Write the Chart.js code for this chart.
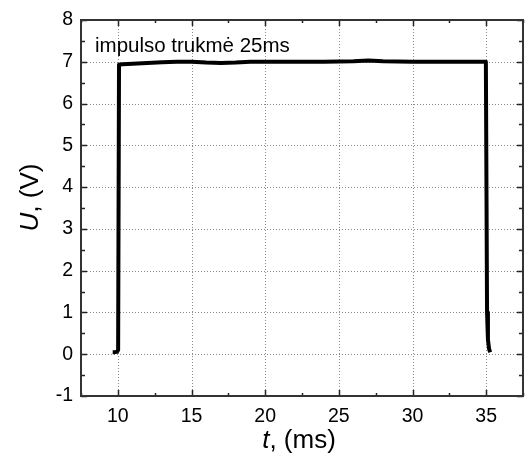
<!DOCTYPE html>
<html>
<head>
<meta charset="utf-8">
<script src="https://cdn.jsdelivr.net/npm/chart.js@4.4.1/dist/chart.umd.min.js"></script>
<style>
	html, body { margin: 0; padding: 0; background: #fff; }
	#wrap { width: 531px; height: 468px; }
</style>
</head>
<body>
<div id="wrap"><canvas id="chart" width="531" height="468"></canvas></div>
<script>
/* pulse trace */
const timeMs = [9.65, 9.8, 9.95, 10.02, 10.08, 10.3, 11, 12, 13, 14, 15, 16, 17, 18, 19, 20, 22, 24, 26, 27, 28, 30, 32, 34, 34.98, 35.06, 35.12, 35.2, 35.28]
const voltage = [0.05, 0.05, 0.06, 0.1, 6.93, 6.94, 6.95, 6.97, 6.99, 7.0, 7.0, 6.98, 6.97, 6.98, 7.0, 7.0, 7.0, 7.0, 7.01, 7.03, 7.01, 7.0, 7.0, 7.0, 7.0, 1.0, 0.35, 0.12, 0.05]

const xTicks = [10, 15, 20, 25, 30, 35]
const yTicks = [-1, 0, 1, 2, 3, 4, 5, 6, 7, 8]
const xMinor = [7.5, 12.5, 17.5, 22.5, 27.5, 32.5, 37.5]
const yMinor = [-0.5, 0.5, 1.5, 2.5, 3.5, 4.5, 5.5, 6.5, 7.5]

const noteText = 'impulso trukmė 25ms'
const font = '"Liberation Sans", Arial, sans-serif'

const points = timeMs.map((t, i) => ({ x: t, y: voltage[i] }))

// dotted grid under the trace
const gridPlugin = {
	id: 'dotgrid',
	beforeDatasetsDraw(chart) {
		const ctx = chart.ctx
		const a = chart.chartArea
		const xs = chart.scales.x
		const ys = chart.scales.y
		ctx.save()
		ctx.strokeStyle = '#8a8a8a'
		ctx.lineWidth = 1
		ctx.setLineDash([1, 2])
		xTicks.forEach((v) => {
			const px = Math.round(xs.getPixelForValue(v)) + 0.5
			ctx.beginPath(); ctx.moveTo(px, a.top); ctx.lineTo(px, a.bottom); ctx.stroke()
		})
		yTicks.slice(1, -1).forEach((v) => {
			const py = Math.round(ys.getPixelForValue(v)) + 0.5
			ctx.beginPath(); ctx.moveTo(a.left, py); ctx.lineTo(a.right, py); ctx.stroke()
		})
		ctx.restore()
	}
}

// inward ticks on all four sides, frame, titles and the note
const framePlugin = {
	id: 'frame',
	afterDraw(chart) {
		const ctx = chart.ctx
		const a = chart.chartArea
		const xs = chart.scales.x
		const ys = chart.scales.y
		ctx.save()
		ctx.strokeStyle = '#222'
		ctx.lineWidth = 1.5
		const tick = (list, len) => {
			list.forEach((v) => {
				const px = Math.round(xs.getPixelForValue(v)) + 0.5
				ctx.beginPath()
				ctx.moveTo(px, a.bottom); ctx.lineTo(px, a.bottom - len)
				ctx.moveTo(px, a.top); ctx.lineTo(px, a.top + len)
				ctx.stroke()
			})
		}
		const ytick = (list, len) => {
			list.forEach((v) => {
				const py = Math.round(ys.getPixelForValue(v)) + 0.5
				ctx.beginPath()
				ctx.moveTo(a.left, py); ctx.lineTo(a.left + len, py)
				ctx.moveTo(a.right, py); ctx.lineTo(a.right - len, py)
				ctx.stroke()
			})
		}
		tick(xTicks, 6)
		tick(xMinor, 3)
		ytick(yTicks, 6)
		ytick(yMinor, 4)

		ctx.lineWidth = 2
		ctx.strokeStyle = '#333'
		ctx.strokeRect(a.left, a.top, a.right - a.left, a.bottom - a.top)

		ctx.fillStyle = '#000'
		ctx.textBaseline = 'alphabetic'
		ctx.textAlign = 'left'
		ctx.font = '20.5px ' + font
		ctx.fillText(noteText, 95, 52)

		// x title: italic t
		ctx.font = 'italic 26px ' + font
		const w1 = ctx.measureText('t').width
		ctx.font = '26px ' + font
		const w2 = ctx.measureText(', (ms)').width
		let sx = 299 - (w1 + w2) / 2
		ctx.font = 'italic 26px ' + font
		ctx.fillText('t', sx, 448)
		ctx.font = '26px ' + font
		ctx.fillText(', (ms)', sx + w1, 448)

		// y title: italic U, rotated
		ctx.translate(38, 197.5)
		ctx.rotate(-Math.PI / 2)
		ctx.font = 'italic 26px ' + font
		const u1 = ctx.measureText('U').width
		ctx.font = '26px ' + font
		const u2 = ctx.measureText(', (V)').width
		sx = -(u1 + u2) / 2
		ctx.font = 'italic 26px ' + font
		ctx.fillText('U', sx, 0)
		ctx.font = '26px ' + font
		ctx.fillText(', (V)', sx + u1, 0)
		ctx.restore()
	}
}

new Chart(document.getElementById('chart'), {
	type: 'scatter',
	data: {
		datasets: [{
			data: points,
			showLine: true,
			borderColor: '#000',
			borderWidth: 4,
			pointRadius: 0,
			borderJoinStyle: 'round',
			tension: 0
		}]
	},
	options: {
		responsive: false,
		animation: false,
		events: [],
		layout: { padding: { top: 20, right: 8, left: 0, bottom: 0 } },
		plugins: { legend: { display: false }, tooltip: { enabled: false } },
		scales: {
			x: {
				type: 'linear',
				min: 7.5,
				max: 37.5,
				afterFit: (s) => { s.height = 72 },
				afterBuildTicks: (s) => { s.ticks = xTicks.map((v) => ({ value: v })) },
				grid: { display: false, drawTicks: false },
				border: { display: false },
				ticks: { color: '#000', padding: 9, font: { family: font, size: 19.5 } }
			},
			y: {
				type: 'linear',
				min: -1,
				max: 8,
				afterFit: (s) => { s.width = 81 },
				afterBuildTicks: (s) => { s.ticks = yTicks.map((v) => ({ value: v })) },
				grid: { display: false, drawTicks: false },
				border: { display: false },
				ticks: { color: '#000', padding: 8, font: { family: font, size: 19.5 } }
			}
		}
	},
	plugins: [gridPlugin, framePlugin]
})
</script>
</body>
</html>
